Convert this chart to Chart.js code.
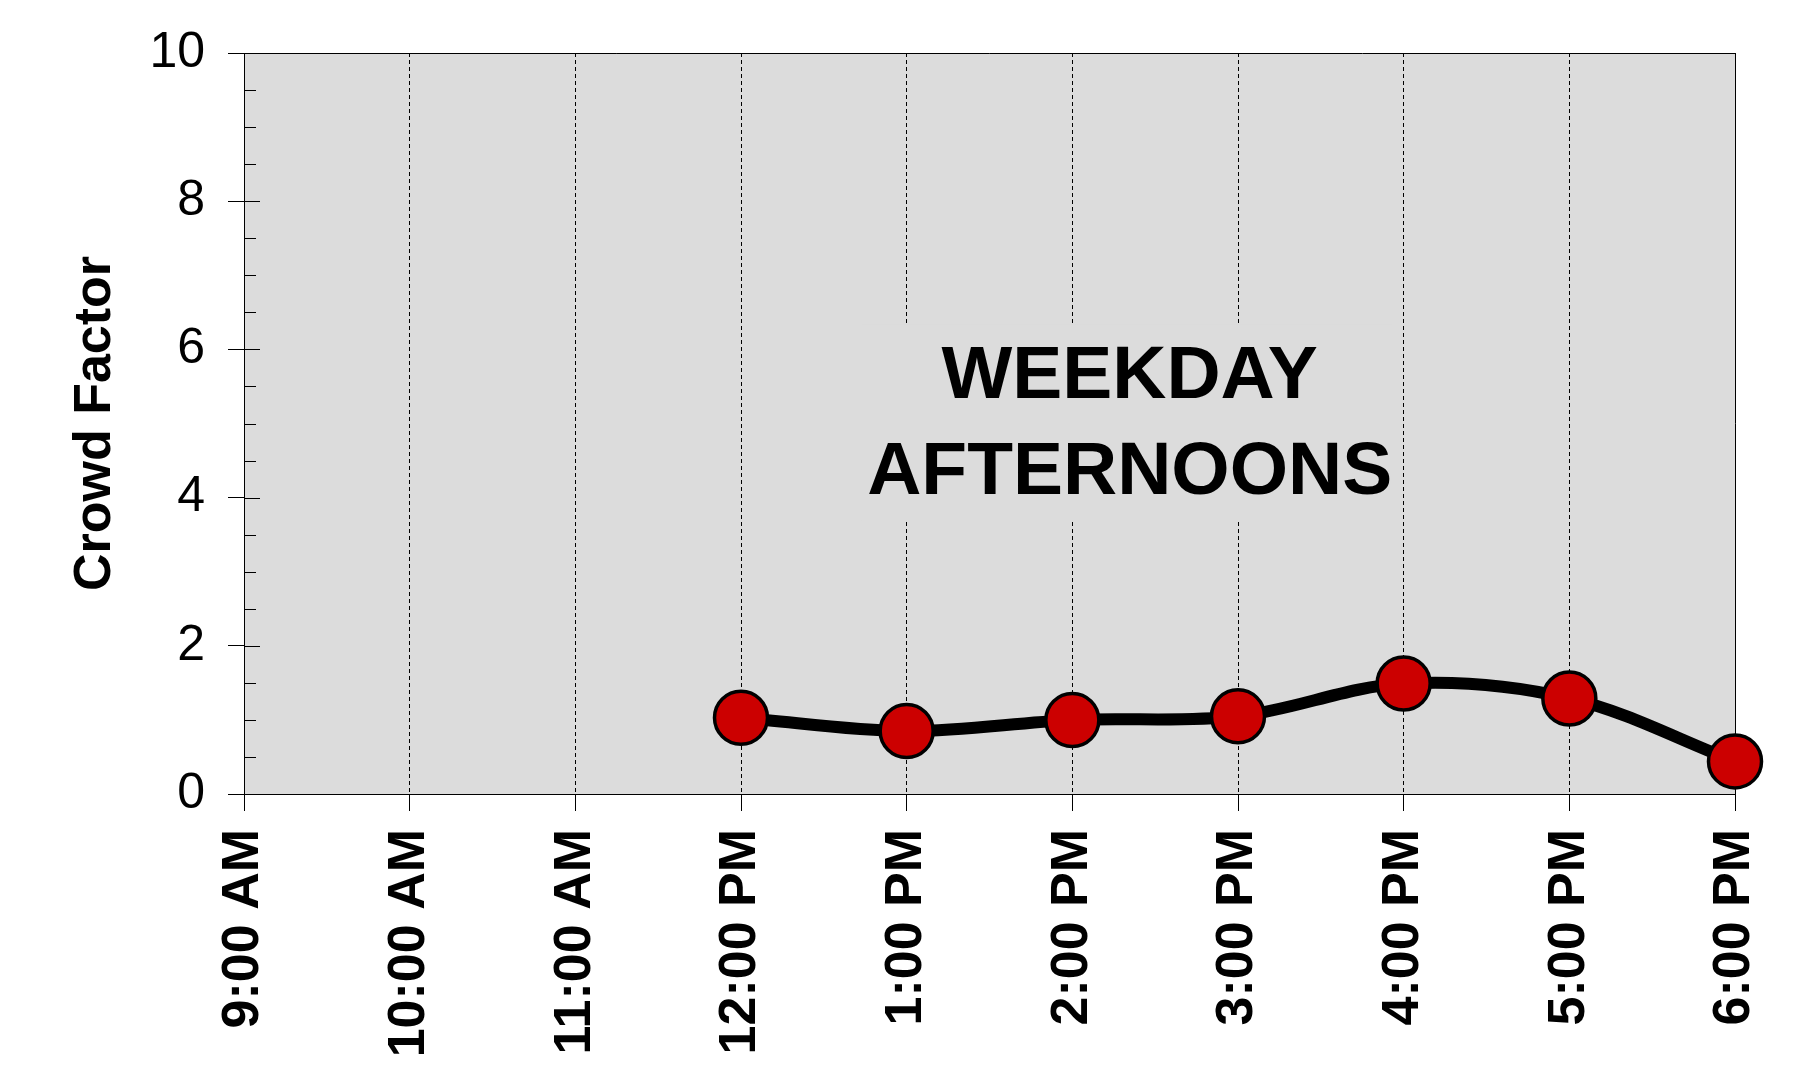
<!DOCTYPE html>
<html>
<head>
<meta charset="utf-8">
<script src="https://cdn.jsdelivr.net/npm/chart.js@4/dist/chart.umd.min.js"></script>
<style>
  html, body { margin: 0; padding: 0; background: #fff; }
  #wrap { width: 1812px; height: 1088px; }
</style>
</head>
<body>
<div id="wrap"><canvas id="chart" width="1812" height="1088"></canvas></div>
<script>
// ===== Data =====
const timeLabels = ['9:00 AM', '10:00 AM', '11:00 AM', '12:00 PM', '1:00 PM', '2:00 PM', '3:00 PM', '4:00 PM', '5:00 PM', '6:00 PM'];
const crowdFactor = [null, null, null, 1.03, 0.85, 1.0, 1.05, 1.49, 1.29, 0.44];
const yTicks = [0, 2, 4, 6, 8, 10];
const annotationLines = ['WEEKDAY', 'AFTERNOONS'];

const PLOT_BG = '#dcdcdc';

// ===== Plot frame / inner ticks / annotation =====
const framePlugin = {
  id: 'frame',
  beforeDraw(chart) {
    const { ctx, chartArea: a } = chart;
    ctx.save();
    ctx.fillStyle = PLOT_BG;
    ctx.fillRect(a.left, a.top, a.right - a.left, a.bottom - a.top);
    ctx.restore();
  },
  beforeDatasetsDraw(chart) {
    const { ctx, chartArea: a, scales } = chart;
    const w = a.right - a.left, h = a.bottom - a.top;
    ctx.save();
    // top & right border
    ctx.strokeStyle = '#000';
    ctx.lineWidth = 1;
    ctx.beginPath();
    ctx.moveTo(a.left, a.top + 0.5);
    ctx.lineTo(a.right + 0.5, a.top + 0.5);
    ctx.lineTo(a.right + 0.5, a.bottom);
    ctx.stroke();
    // inner y ticks (major + minor every 0.5)
    const y = scales.y;
    for (let v = 0; v <= 10; v += 0.5) {
      const py = Math.round(y.getPixelForValue(v)) + 0.5;
      const len = v % 2 === 0 ? 16 : 12;
      ctx.beginPath();
      ctx.moveTo(a.left, py);
      ctx.lineTo(a.left + len, py);
      ctx.stroke();
    }
    // annotation box + text
    ctx.fillStyle = PLOT_BG;
    ctx.fillRect(a.left + w * 0.414, a.top + h * 0.367, w * 0.356, h * 0.264);
    ctx.fillStyle = '#000';
    ctx.font = 'bold 75px "Liberation Sans", Arial, sans-serif';
    ctx.textAlign = 'center';
    ctx.textBaseline = 'middle';
    ctx.fillText(annotationLines[0], a.left + w * 0.594, a.top + h * 0.437);
    ctx.fillText(annotationLines[1], a.left + w * 0.594, a.top + h * 0.567);
    ctx.restore();
  },
};

// ===== Chart =====
const ctx = document.getElementById('chart').getContext('2d');
new Chart(ctx, {
  type: 'line',
  data: {
    labels: timeLabels,
    datasets: [{
      data: crowdFactor,
      borderColor: '#000',
      borderWidth: 12,
      tension: 0.35,
      pointRadius: 26.5,
      pointHoverRadius: 26.5,
      pointBackgroundColor: '#cc0000',
      pointBorderColor: '#000',
      pointBorderWidth: 3.5,
      clip: false,
    }],
  },
  options: {
    responsive: false,
    animation: false,
    events: [],
    layout: { padding: { left: 0, right: 77, top: 49, bottom: 0 } },
    plugins: { legend: { display: false }, tooltip: { enabled: false } },
    scales: {
      x: {
        offset: false,
        grid: {
          color: '#000',
          lineWidth: 1,
          drawOnChartArea: true,
          tickLength: 17,
          tickColor: '#000',
          tickBorderDash: [],
        },
        border: { display: true, color: '#000', width: 1, dash: [4, 3] },
        ticks: {
          color: '#000',
          minRotation: 90,
          maxRotation: 90,
          autoSkip: false,
          padding: 18,
          font: { family: '"Liberation Sans", Arial, sans-serif', size: 52, weight: 'bold' },
        },
        afterFit(scale) {
          scale.height = 294;
          scale.paddingLeft = 0;
          scale.paddingRight = 0;
        },
      },
      y: {
        min: 0,
        max: 10,
        afterBuildTicks(scale) { scale.ticks = yTicks.map(v => ({ value: v })); },
        grid: {
          drawOnChartArea: false,
          tickLength: 16,
          tickColor: '#000',
        },
        border: { display: true, color: '#000', width: 1 },
        ticks: {
          color: '#000',
          padding: 23,
          font: { family: '"Liberation Sans", Arial, sans-serif', size: 50 },
        },
        title: {
          display: true,
          text: 'Crowd Factor',
          color: '#000',
          padding: { top: 64, bottom: 0 },
          font: { family: '"Liberation Sans", Arial, sans-serif', size: 52, weight: 'bold' },
        },
        afterFit(scale) { scale.width = 244; },
      },
    },
  },
  plugins: [framePlugin],
});
</script>
</body>
</html>
